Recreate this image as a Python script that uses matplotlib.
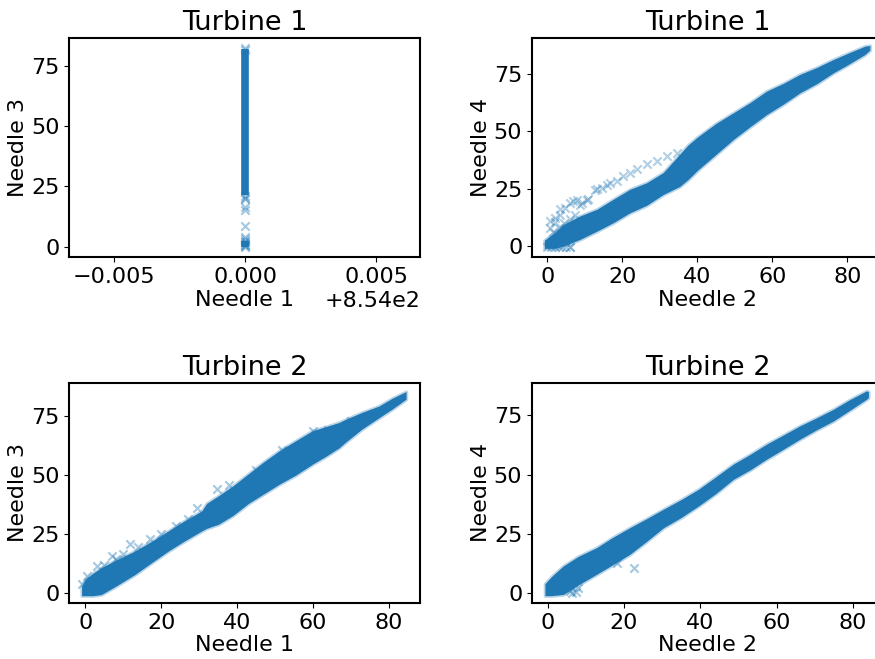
import matplotlib
matplotlib.use("Agg")
import matplotlib.pyplot as plt

BLUE = '#1f77b4'

# Turbine 1: Needle 1 is stuck at 854, Needle 3 spread along one column
t1_n1_value = 854.0
t1_col_low, t1_col_high = 21.5, 82.0
t1_col_base_low, t1_col_base_high = 0.0, 2.5
t1_n3_points = [82.6, 81.5, 21.0, 20.2, 19.6, 16.6, 15.2, 8.6, 4.1, 3.0, 2.2, 1.2, 0.3, -0.3, 0.8, 1.8]
t1_n1_ticks = [853.995, 854.0, 854.005]

# Turbine 1: Needle 2 vs Needle 4 (dense core: x, lower edge, upper edge)
t1_n2_x = [-0.8, 2, 4.3, 8.7, 13.2, 17.6, 22, 26.5, 30.9, 35.3, 37.5, 40, 45, 49.6, 54, 58.5, 63, 67.4, 72, 76.3, 80, 84.7, 86]
t1_n4_lo = [-1, -1, 0, 2.9, 6.5, 10.2, 14.5, 17.8, 22.5, 26, 29, 33, 40, 46.5, 52, 57.4, 62, 66.9, 71, 75.6, 79, 83.6, 85.5]
t1_n4_hi = [2.5, 6, 9.4, 13.1, 16.0, 20.4, 24.7, 27.6, 32, 40, 44, 47.5, 53.5, 58.1, 62.5, 67.6, 71, 74.9, 78, 81.4, 84, 87.2, 87.5]
# the lighter upper arc and the cluster at the origin
t1_arc_x = [0.7, 0.7, 2.1, 2.1, 3.4, 3.4, 4.7, 6.1, 6.9, 7.8, 8.7, 9.2, 10.5, 10.9, 12.7, 13.2, 14.5, 15.8, 16.7,
            18.5, 20.3, 22, 23.8, 26.5, 29.2, 31.8, 34.5, 1.5, 3, 4.5, 6, 7.5,
            0, 1, 2, 3, 4, 5, 6.1, 6.1]
t1_arc_y = [7.7, 10.9, 10.6, 12.4, 13.5, 16.0, 16.6, 18.6, 19.6, 20.1, 17.9, 18.9, 20.1, 20.4, 24.4, 24.7, 25.4, 26.6, 27.6,
            28.3, 30.5, 32, 33.4, 35.6, 37.1, 39.3, 40.7, 6, 8, 10, 12, 13.5,
            -0.5, -0.5, -0.5, -0.5, -0.5, -0.5, -0.5, -0.5]

# Turbine 2: Needle 1 vs Needle 3
t2_n1_x = [-1, 0, 2, 4.2, 8, 13.1, 17.5, 21.9, 26, 30.7, 32, 35.1, 39, 43, 47, 51.1, 55.5, 59.9, 63.5, 66.9, 68.7, 73, 77.5, 81, 84.6]
t2_n3_lo = [-1, -1, -1, -0.5, 3, 8, 13, 17.9, 22, 26.4, 27.5, 29.2, 33, 38, 42, 46.1, 50, 54.6, 58, 61.5, 64, 69.5, 74.3, 78, 82.1]
t2_n3_hi = [3, 6, 8.5, 10.8, 14, 17.9, 22, 26.4, 30.5, 34.8, 38, 41.2, 45.5, 50.5, 55.5, 60.2, 64.5, 68.7, 70.5, 72.2, 73.6, 76.5, 79.2, 82.5, 85.3]
t2_n1_out = [6.9, 11.7, 29.4, 34.7, 3, 5, 8, 10, 14, 17, 20, 24, 27, 38, 45, 52, 60, 64, 70, -1, 0.5]
t2_n3_out = [15.8, 20.7, 36.2, 44, 11.5, 12, 14.5, 16.5, 19.5, 23, 25, 28.5, 31.5, 46, 52, 60.5, 68.5, 69, 73, 4, 7.5]

# Turbine 2: Needle 2 vs Needle 4
t2_n2_x = [-0.7, 1, 4.1, 8, 12.8, 17, 21.5, 26, 30.3, 35, 39.5, 44, 48.6, 53, 57.3, 61.5, 66, 70.5, 74.8, 79, 83.5, 84]
t2_n4_lo = [-1, -1, -0.5, 3.5, 8, 12, 16.4, 22, 27.6, 32, 36.8, 42, 48, 52, 56.5, 60.5, 64.9, 69, 72.6, 77, 81.8, 82.5]
t2_n4_hi = [4, 7, 11.5, 15.5, 19.2, 23.5, 27.6, 31.5, 35.4, 39.5, 43.8, 49, 54.4, 58.5, 62.8, 66.5, 70.5, 74, 77.5, 81.5, 85.3, 85]
t2_n2_out = [18.1, 22.6, 5.8, 8, 6.5, 7.5]
t2_n4_out = [12.9, 10.8, 1, 2.4, 0, 0.5]

plt.rcParams['font.size'] = 16

fig = plt.figure(figsize=(8.75, 6.59), dpi=100)
ax1 = fig.add_axes([0.079, 0.610, 0.401, 0.332])
ax2 = fig.add_axes([0.608, 0.610, 0.401, 0.332])
ax3 = fig.add_axes([0.079, 0.085, 0.401, 0.334])
ax4 = fig.add_axes([0.608, 0.085, 0.401, 0.334])


def band(ax, x, lo, hi):
    # soft fringe first, then the saturated core
    ax.fill_between(x, lo, hi, color=BLUE, alpha=0.3, linewidth=2.5)
    ax.fill_between(x, lo, hi, color=BLUE, linewidth=0)


# Turbine 1, Needle 1 vs Needle 3
ax1.vlines(t1_n1_value, t1_col_low, t1_col_high, color=BLUE, linewidth=5.5)
ax1.vlines(t1_n1_value, t1_col_base_low, t1_col_base_high, color=BLUE, linewidth=5.5)
ax1.scatter([t1_n1_value] * len(t1_n3_points), t1_n3_points, marker='x', color=BLUE, alpha=0.4)
ax1.set_xlim(t1_n1_value - 0.00672, t1_n1_value + 0.00668)
ax1.set_ylim(-4.3, 86.6)
ax1.set_xticks(t1_n1_ticks)
ax1.set_yticks([0, 25, 50, 75])
ax1.set_xlabel('Needle 1', labelpad=2)
ax1.set_ylabel('Needle 3', labelpad=2)
ax1.set_title('Turbine 1', fontsize=19.5)

# Turbine 1, Needle 2 vs Needle 4
band(ax2, t1_n2_x, t1_n4_lo, t1_n4_hi)
ax2.scatter(t1_arc_x, t1_arc_y, marker='x', color=BLUE, alpha=0.35)
ax2.set_xlim(-4.1, 89.5)
ax2.set_ylim(-4.8, 90.7)
ax2.set_xticks([0, 20, 40, 60, 80])
ax2.set_yticks([0, 25, 50, 75])
ax2.set_xlabel('Needle 2', labelpad=2)
ax2.set_ylabel('Needle 4', labelpad=2)
ax2.set_title('Turbine 1', fontsize=19.5)

# Turbine 2, Needle 1 vs Needle 3
band(ax3, t2_n1_x, t2_n3_lo, t2_n3_hi)
ax3.scatter(t2_n1_out, t2_n3_out, marker='x', color=BLUE, alpha=0.4)
ax3.set_xlim(-4.3, 88.3)
ax3.set_ylim(-4.1, 89)
ax3.set_xticks([0, 20, 40, 60, 80])
ax3.set_yticks([0, 25, 50, 75])
ax3.set_xlabel('Needle 1', labelpad=2)
ax3.set_ylabel('Needle 3', labelpad=2)
ax3.set_title('Turbine 2', fontsize=19.5)

# Turbine 2, Needle 2 vs Needle 4
band(ax4, t2_n2_x, t2_n4_lo, t2_n4_hi)
ax4.scatter(t2_n2_out, t2_n4_out, marker='x', color=BLUE, alpha=0.4)
ax4.set_xlim(-4.1, 87.8)
ax4.set_ylim(-4.1, 88.7)
ax4.set_xticks([0, 20, 40, 60, 80])
ax4.set_yticks([0, 25, 50, 75])
ax4.set_xlabel('Needle 2', labelpad=2)
ax4.set_ylabel('Needle 4', labelpad=2)
ax4.set_title('Turbine 2', fontsize=19.5)

for ax in (ax1, ax2, ax3, ax4):
    for sp in ax.spines.values():
        sp.set_linewidth(1.5)

fig.savefig('out.png', dpi=100)
